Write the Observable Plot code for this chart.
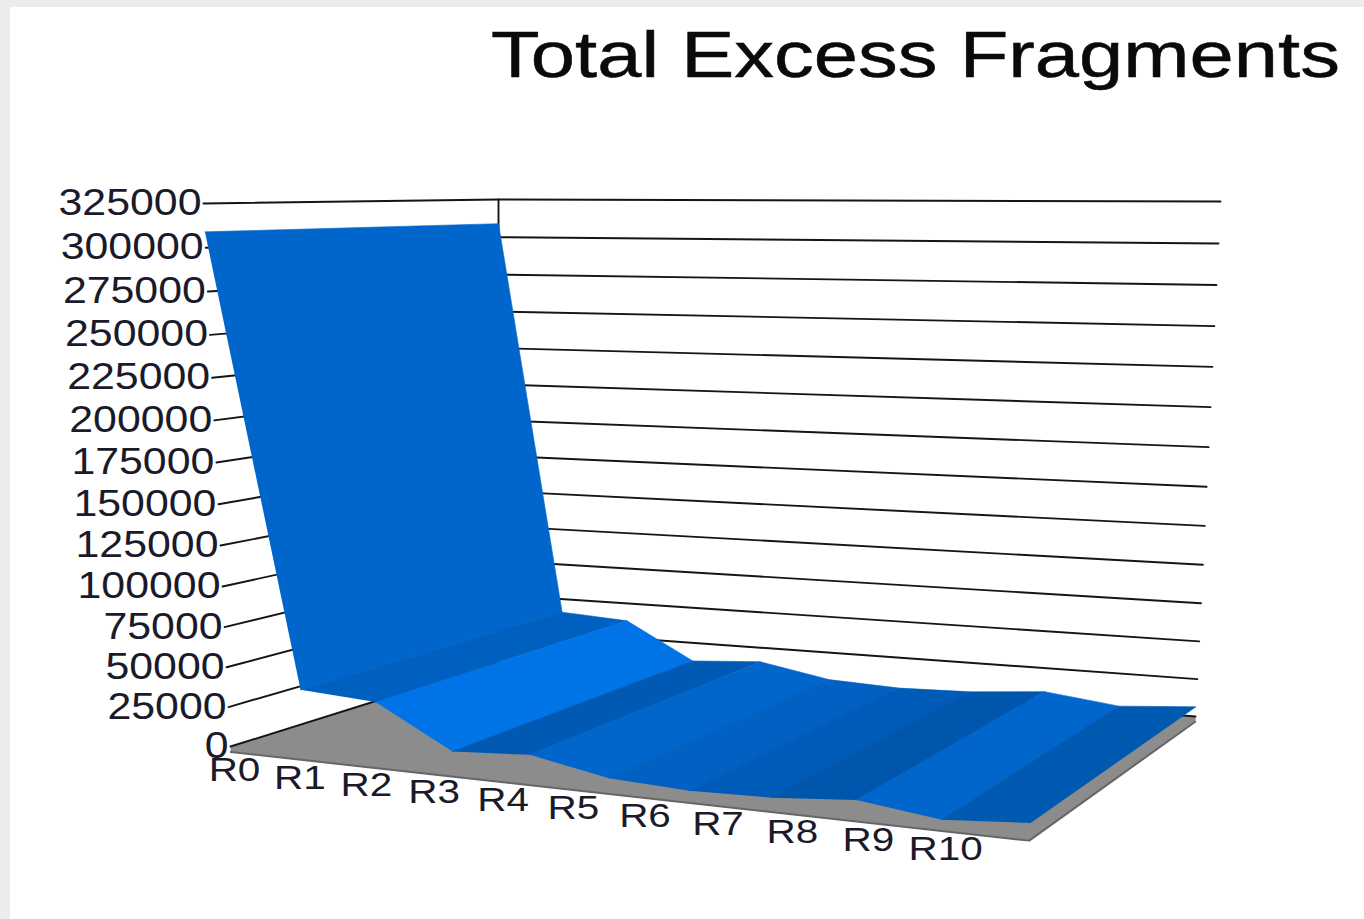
<!DOCTYPE html>
<html>
<head>
<meta charset="utf-8">
<script src="https://cdn.jsdelivr.net/npm/d3@7"></script>
<script src="https://cdn.jsdelivr.net/npm/@observablehq/plot@0.6"></script>
<style>
  html, body { margin: 0; padding: 0; width: 1364px; height: 919px; overflow: hidden; background: #ececec; }
  #sheet { position: absolute; left: 10px; top: 7px; width: 1354px; height: 912px; background: #fff; }
  #chart { position: absolute; left: 0; top: 0; }
  #chart svg { background: transparent; display: block; }
  h1 { position: absolute; left: 491px; top: 15px; margin: 0; font: 400 65px/80px "Liberation Sans", Arial, sans-serif;
       color: #0a0a0a; white-space: nowrap; transform: scaleX(1.224); transform-origin: left top;
       -webkit-text-stroke: 0.5px #0a0a0a; }
</style>
</head>
<body>
<div id="sheet"></div>
<div id="chart"></div>
<h1>Total Excess Fragments</h1>
<script>
// ---- data ----
const runs = ["R0","R1","R2","R3","R4","R5","R6","R7","R8","R9","R10"];
const fragments = [309000,40500,37500,12000,15000,6000,3800,5000,9000,3000,6500];
const ticks = [0,25000,50000,75000,100000,125000,150000,175000,200000,225000,250000,275000,300000,325000];

// facet shades of the ribbon, one per step between two runs
const steps = ["s0","s1","s2","s3","s4","s5","s6","s7","s8","s9"];
const stepShades = ["#0066cc","#0060c0","#0073e6","#0059b3","#0066cc","#0061c3","#005bb8","#0055ad","#0066cc","#0059b0"];

// ---- oblique perspective of the box: (run, depth, value) -> page ----
const box = {
  floorFrontL: [230,746], floorFrontR: [1029,834], floorBackL: [498,662], floorBackR: [1195,716],
  topFrontL:   [203,203], topFrontR:   [1059,228], topBackL:   [498,199], topBackR:   [1220,201]
};
const maxValue = 325000, maxRun = runs.length - 1;
const runW = 0.9, valueW = 0.94, plate = -3500;
function project(u, v, w) {
  const t = u / maxRun, h = w / maxValue;
  const a = (1 - t), b = t * runW, c = (1 - h), d = h * valueW;
  const mix = (i) => {
    const front = (a*c*box.floorFrontL[i] + b*c*box.floorFrontR[i] + a*d*box.topFrontL[i] + b*d*box.topFrontR[i]);
    const back  = (a*c*box.floorBackL[i]  + b*c*box.floorBackR[i]  + a*d*box.topBackL[i]  + b*d*box.topBackR[i]);
    return ((1 - v) * front + v * back) / ((a + b) * (c + d));
  };
  return [mix(0), mix(1)];
}
const P = (u, v, w, extra = {}) => { const [x, y] = project(u, v, w); return {x, y, ...extra}; };

// ---- rows built from the arrays ----
const ribbon = steps.flatMap((s, i) => [
  P(i, 0, fragments[i], {step: s}), P(i, 1, fragments[i], {step: s}),
  P(i + 1, 1, fragments[i + 1], {step: s}), P(i + 1, 0, fragments[i + 1], {step: s})
]);
const floorPoly = [
  P(0,0,0), P(0,1,0), P(maxRun,1,0), P(maxRun,1,plate), P(maxRun,0,plate), P(0,0,plate)
];
const plateEdge = [P(0,0,plate), P(maxRun,0,plate), P(maxRun,1,plate)];
const wallLines = ticks.flatMap((w) => [P(0,0,w,{w}), P(0,1,w,{w}), P(maxRun,1,w,{w})]);
const corner = [P(0,1,0), P(0,1,maxValue)];
const tickLabels = ticks.map((w) => P(0,0,w,{label: String(w)}));
const runLabels = runs.map((r, i) => P(i * 0.9, 0, 0, {label: r}));

const font = '"Liberation Sans", Arial, sans-serif';
const plot = Plot.plot({
  width: 1364, height: 919, margin: 0,
  x: {type: "identity", axis: null}, y: {type: "identity", axis: null},
  color: {type: "ordinal", domain: steps, range: stepShades},
  marks: [
    Plot.line(floorPoly, {x: "x", y: "y", fill: "#8c8c8c", stroke: "#8c8c8c", strokeWidth: 0.5}),
    Plot.line(plateEdge, {x: "x", y: "y", stroke: "#666666", strokeWidth: 2}),
    Plot.line(wallLines, {x: "x", y: "y", z: "w", stroke: "#151515", strokeWidth: 1.9}),
    Plot.line(corner, {x: "x", y: "y", stroke: "#151515", strokeWidth: 1.9}),
    Plot.line(ribbon, {x: "x", y: "y", z: "step", fill: "step", stroke: "step", strokeWidth: 0.6}),
    Plot.text(tickLabels, {x: "x", y: "y", text: "label", textAnchor: "end", lineAnchor: "middle", dx: -2,
      fontSize: 36, fontFamily: font, fill: "#1a1a2a"}),
    Plot.text(runLabels, {x: "x", y: "y", text: "label", textAnchor: "middle", lineAnchor: "middle", dx: 4, dy: 24,
      fontSize: 34, fontFamily: font, fill: "#1a1a2a"})
  ]
});
document.getElementById("chart").append(plot);
// the reference is stretched sideways: widen the axis text to match
plot.querySelectorAll("text").forEach((t) => {
  const len = t.getComputedTextLength();
  t.setAttribute("textLength", (len * 1.19).toFixed(1));
  t.setAttribute("lengthAdjust", "spacingAndGlyphs");
});
</script>
</body>
</html>
